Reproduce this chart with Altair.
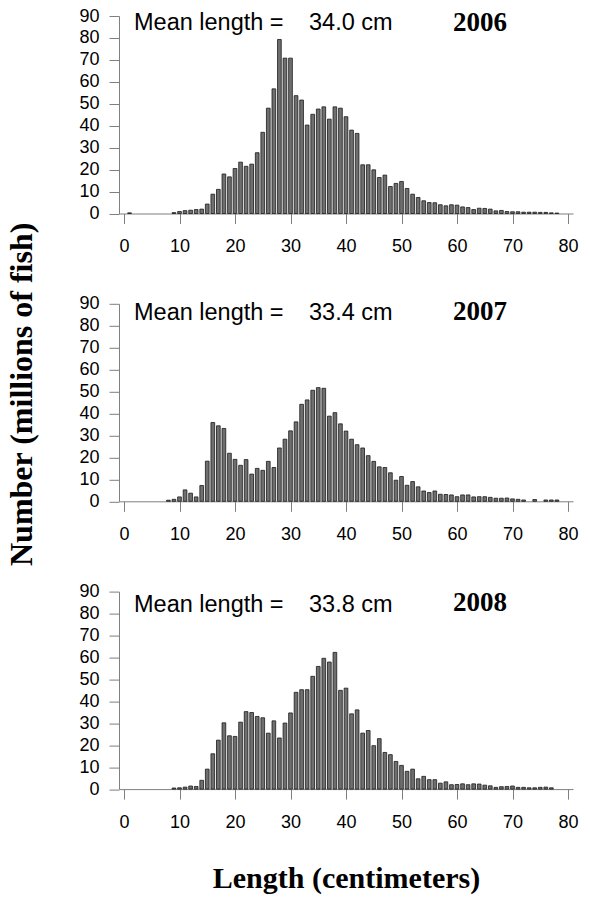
import altair as alt
import pandas as pd

# Length classes (cm) and abundance (millions of fish) per year
lengths = list(range(1, 80))

counts_2006 = [
    0.3, 0, 0, 0, 0, 0, 0, 0, 0.4, 0.9,
    1.3, 1.5, 1.8, 2.0, 4.3, 8.8, 11.0, 18.0, 16.7, 20.5,
    23.4, 21.5, 22.5, 27.7, 37.0, 48.0, 56.8, 79.3, 70.8, 70.8,
    53.7, 51.7, 40.3, 45.2, 47.6, 48.6, 43.0, 48.6, 48.0, 44.1,
    38.0, 36.5, 22.2, 22.2, 19.9, 16.4, 17.5, 12.3, 13.7, 14.6,
    11.4, 8.8, 7.3, 5.8, 5.0, 4.9, 4.0, 3.5, 4.0, 3.8,
    3.0, 2.7, 1.8, 2.4, 2.3, 2.0, 1.2, 1.4, 0.9, 0.8,
    0.8, 0.6, 0.6, 0.6, 0.5, 0.5, 0.3, 0.2, 0,
]

counts_2007 = [
    0, 0, 0, 0, 0, 0, 0, 0.5, 0.9, 2.0,
    5.2, 3.7, 2.0, 7.2, 18.3, 35.9, 34.4, 33.2, 21.9, 19.1,
    16.4, 19.0, 12.4, 15.0, 14.1, 18.2, 15.4, 24.3, 28.3, 32.1,
    36.2, 44.2, 46.2, 50.6, 51.8, 51.5, 38.8, 40.4, 35.3, 32.0,
    28.3, 25.8, 24.3, 20.8, 18.2, 15.7, 15.4, 13.0, 9.6, 11.3,
    7.3, 9.0, 6.6, 4.7, 4.0, 4.7, 3.2, 3.1, 2.9, 2.1,
    2.9, 2.9, 2.0, 2.1, 2.1, 1.8, 1.4, 1.4, 1.5, 1.1,
    0.9, 0.6, 0, 0.8, 0, 0.6, 0.6, 0.6, 0,
]

counts_2008 = [
    0, 0, 0, 0, 0, 0, 0, 0, 0.5, 0.6,
    0.9, 1.4, 1.2, 4.0, 9.1, 16.1, 22.3, 30.2, 24.3, 24.0,
    30.5, 35.3, 34.9, 33.1, 32.5, 25.5, 31.1, 23.3, 30.1, 34.7,
    44.1, 45.3, 45.3, 51.4, 55.9, 59.6, 57.9, 62.3, 45.0, 46.0,
    34.3, 36.1, 25.5, 26.7, 19.8, 23.0, 16.7, 15.7, 12.6, 10.8,
    8.1, 9.1, 4.7, 5.8, 4.3, 4.3, 2.7, 3.3, 2.0, 2.1,
    2.4, 2.0, 2.4, 2.3, 1.8, 1.5, 0.8, 1.1, 1.2, 1.4,
    0.8, 0.8, 0.6, 0.6, 0.8, 0.9, 0.6, 0, 0,
]

years = ["2006", "2007", "2008"]
mean_lengths = ["34.0 cm", "33.4 cm", "33.8 cm"]
x_ticks = [0, 10, 20, 30, 40, 50, 60, 70, 80]
y_ticks = [0, 10, 20, 30, 40, 50, 60, 70, 80, 90]

PLOT_W = 454
PLOT_H = 197.5
SANS = "Liberation Sans"
SERIF = "Liberation Serif"
AXIS_GRAY = "#7f7f7f"

text_base = [14, 16, 20]
year_base = [15, 16, 19]


def panel(i, counts, y_title, x_title):
    df = pd.DataFrame({"length": lengths, "count": counts})
    df = df[df["count"] > 0]

    x_axis_kwargs = dict(
        values=x_ticks, tickSize=10, labelPadding=14, labelFontSize=18,
        labelFont=SANS, labelColor="black", domainColor=AXIS_GRAY,
        tickColor=AXIS_GRAY, grid=False,
    )
    if x_title:
        x_axis = alt.Axis(title=x_title, titleFont=SERIF, titleFontSize=30,
                          titleFontWeight="bold", titleColor="black",
                          titlePadding=32, **x_axis_kwargs)
    else:
        x_axis = alt.Axis(title="", **x_axis_kwargs)

    y_axis_kwargs = dict(
        values=y_ticks, tickSize=10, labelPadding=10, labelFontSize=18,
        labelFont=SANS, labelColor="black", domainColor=AXIS_GRAY,
        tickColor=AXIS_GRAY, grid=False,
    )
    if y_title:
        y_axis = alt.Axis(title=y_title, titleFont=SERIF, titleFontSize=32,
                          titleFontWeight="bold", titleColor="black",
                          titlePadding=40, titleY=90, **y_axis_kwargs)
    else:
        y_axis = alt.Axis(title="", **y_axis_kwargs)

    bars = alt.Chart(df).mark_bar(
        size=3.7, fill="#6f6f6f", stroke="#1a1a1a", strokeWidth=0.8
    ).encode(
        x=alt.X("length:Q", scale=alt.Scale(domain=[0, 80], nice=False, zero=False), axis=x_axis),
        y=alt.Y("count:Q", scale=alt.Scale(domain=[0, 90], nice=False), axis=y_axis),
    )

    lab_df = pd.DataFrame({"t": ["Mean length ="]})
    mean_df = pd.DataFrame({"t": [mean_lengths[i]]})
    year_df = pd.DataFrame({"t": [years[i]]})

    lab = alt.Chart(lab_df).mark_text(
        font=SANS, fontSize=23.5, align="left", baseline="alphabetic", color="black"
    ).encode(text="t:N", x=alt.value(15), y=alt.value(text_base[i]))
    mean = alt.Chart(mean_df).mark_text(
        font=SANS, fontSize=23.5, align="left", baseline="alphabetic", color="black"
    ).encode(text="t:N", x=alt.value(190), y=alt.value(text_base[i]))
    yr = alt.Chart(year_df).mark_text(
        font=SERIF, fontSize=27, fontWeight="bold", align="left",
        baseline="alphabetic", color="black"
    ).encode(text="t:N", x=alt.value(334), y=alt.value(year_base[i]))

    return alt.layer(bars, lab, mean, yr).properties(width=PLOT_W, height=PLOT_H)


p1 = panel(0, counts_2006, None, None)
p2 = panel(1, counts_2007, "Number (millions of fish)", None)
p3 = panel(2, counts_2008, None, "Length (centimeters)")

chart = alt.vconcat(p1, p2, p3, spacing=89.8, bounds="flush").properties(
    padding={"left": 5, "top": 7, "right": 4, "bottom": 3},
    background="white",
).configure_view(strokeWidth=0)

chart.save("out.html", embed_options={"renderer": "svg", "actions": False})
